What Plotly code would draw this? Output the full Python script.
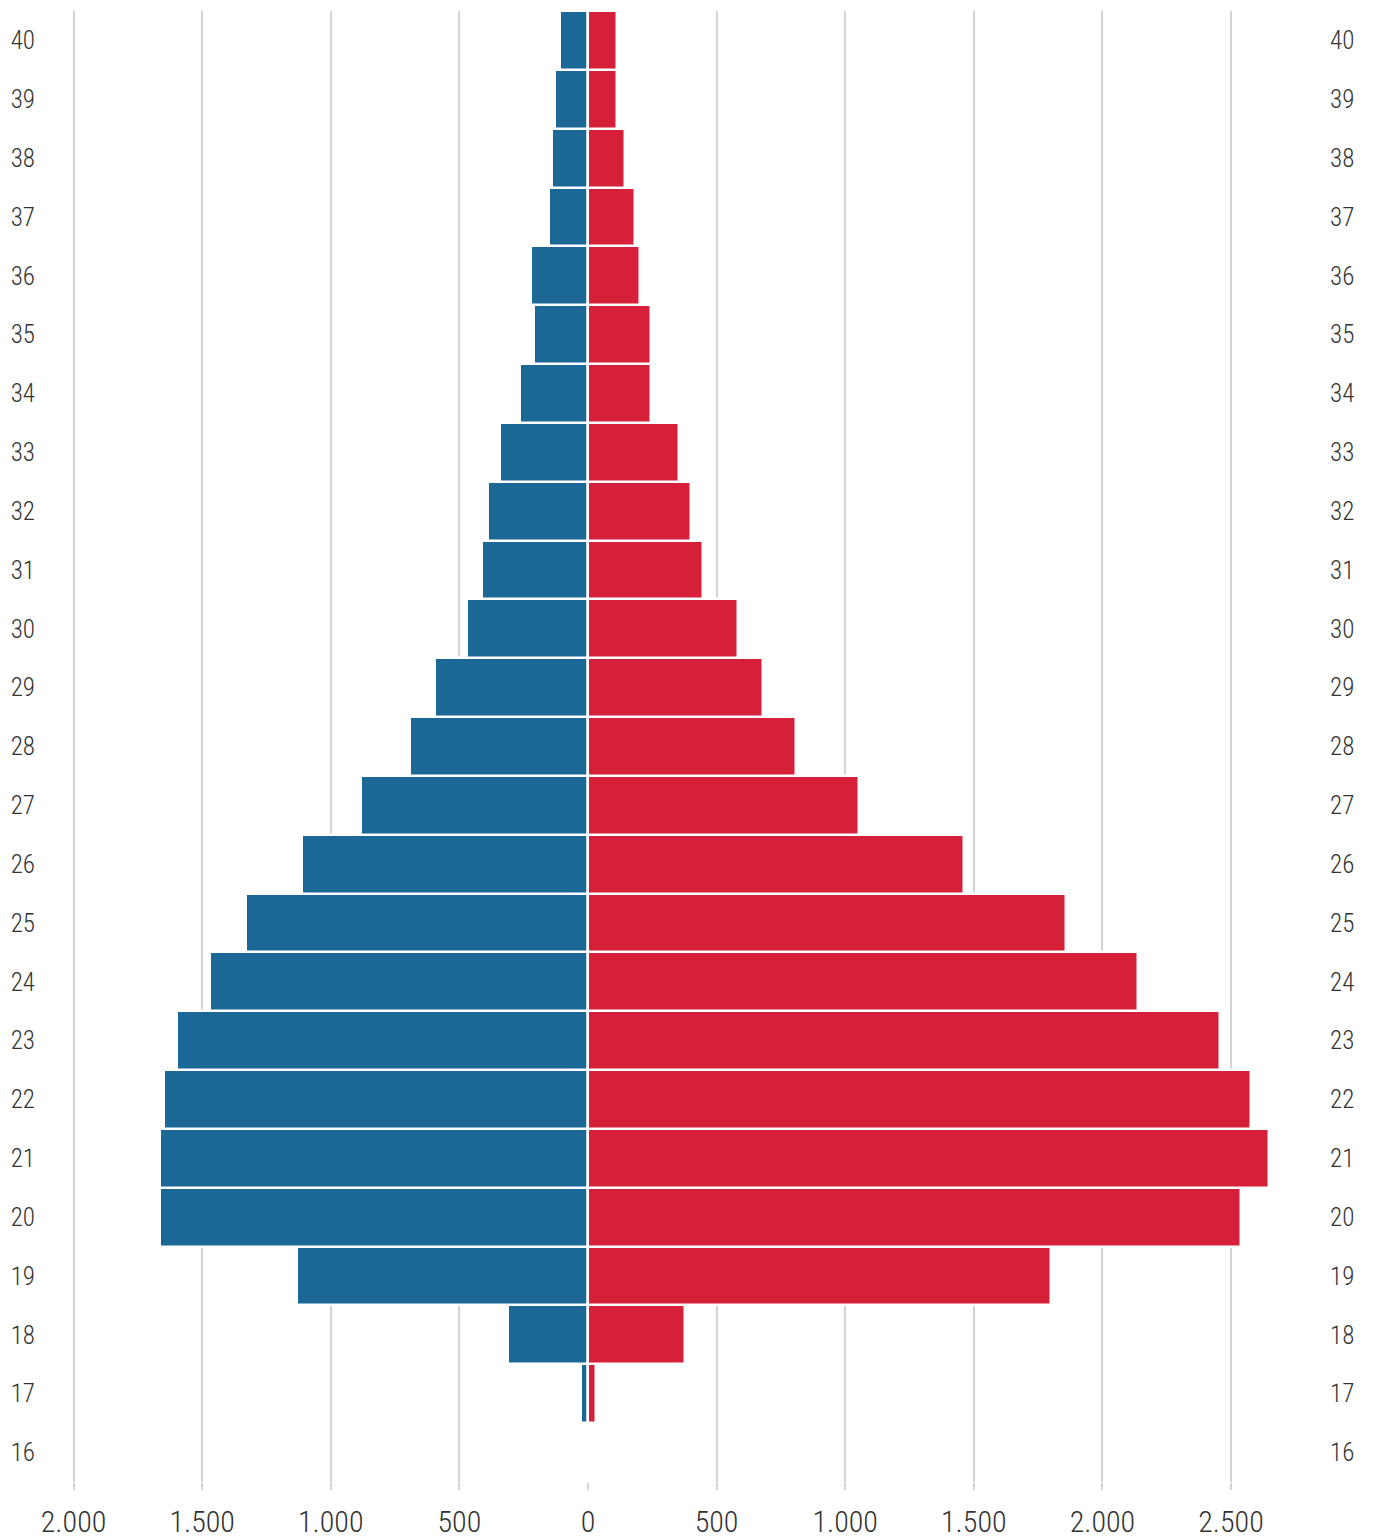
import plotly.graph_objects as go

# Age groups (bottom to top) and counts per side
ages = list(range(16, 41))
blue_counts = [0, 29, 312, 1132, 1664, 1664, 1648, 1598, 1470, 1330, 1112, 883,
               693, 595, 471, 413, 390, 343, 265, 211, 223, 153, 141, 129, 110]
red_counts = [0, 33, 378, 1800, 2538, 2647, 2577, 2456, 2138, 1858, 1462, 1054,
              809, 681, 584, 448, 401, 355, 246, 246, 203, 184, 145, 114, 114]

x_tick_values = [-2000, -1500, -1000, -500, 0, 500, 1000, 1500, 2000, 2500]
x_tick_labels = ["2.000", "1.500", "1.000", "500", "0", "500", "1.000", "1.500", "2.000", "2.500"]

BLUE = "#1b6896"
RED = "#d61f38"
GRID = "#d3d3d3"
TEXT = "#333333"
FONT = "Roboto Condensed, Liberation Sans Narrow, Arial Narrow, DejaVu Sans Condensed, Roboto, sans-serif"

fig = go.Figure()
fig.add_trace(go.Bar(
    y=ages, x=[-v for v in blue_counts], orientation="h",
    marker=dict(color=BLUE, line=dict(color="white", width=2.5)),
    showlegend=False, hoverinfo="skip",
))
fig.add_trace(go.Bar(
    y=ages, x=red_counts, orientation="h",
    marker=dict(color=RED, line=dict(color="white", width=2.5)),
    showlegend=False, hoverinfo="skip",
))
# invisible carrier so the right-hand age axis is drawn
fig.add_trace(go.Scatter(
    y=ages, x=[0] * len(ages), yaxis="y2", mode="markers",
    marker=dict(opacity=0), showlegend=False, hoverinfo="skip",
))

fig.update_layout(
    width=1373, height=1539,
    margin=dict(l=36, r=44, t=11, b=57),
    paper_bgcolor="white", plot_bgcolor="white",
    barmode="overlay", bargap=0,
    font=dict(family=FONT, color=TEXT),
    xaxis=dict(
        range=[-2146, 2881],
        tickvals=x_tick_values, ticktext=x_tick_labels,
        showgrid=True, gridcolor=GRID, gridwidth=2.3,
        zeroline=False, showline=False,
        ticks="outside", ticklen=7, tickcolor=GRID, tickwidth=2.3,
        ticklabelstandoff=6, automargin=False,
        tickfont=dict(size=30, color=TEXT, family=FONT, weight=300),
        fixedrange=True,
    ),
    yaxis=dict(
        range=[15.5, 40.5], tickvals=ages, ticktext=[str(a) for a in ages],
        showgrid=False, zeroline=False, showline=False, ticks="",
        automargin=False,
        tickfont=dict(size=25, color=TEXT, family=FONT, weight=300),
    ),
    yaxis2=dict(
        range=[15.5, 40.5], tickvals=ages, ticktext=[str(a) for a in ages],
        overlaying="y", side="right",
        showgrid=False, zeroline=False, showline=False, ticks="",
        automargin=False,
        tickfont=dict(size=25, color=TEXT, family=FONT, weight=300),
    ),
)

fig.write_html("out.html")
